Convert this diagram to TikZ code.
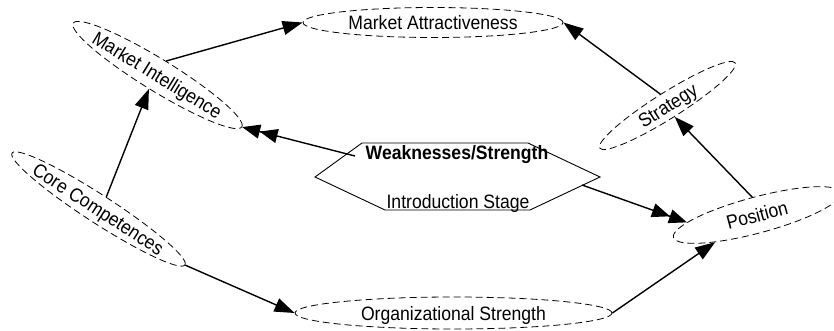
\documentclass[tikz,border=0pt]{standalone}
\usepackage{fontspec}
\usepackage{graphicx}
\setmainfont{Liberation Sans}
\usetikzlibrary{arrows.meta,shapes.geometric}
\newcommand{\vstr}[1]{\makebox[0pt]{\scalebox{1}[1.1]{#1}}}
\begin{document}
\begin{tikzpicture}[x=1pt,y=-1pt,
  txt/.style={font=\fontsize{17.6}{20}\selectfont, text height=14pt, text depth=0pt},
  ell/.style={txt, draw, ellipse, dash pattern=on 7pt off 4pt, line width=0.8pt, inner sep=0pt},
  arr/.style={line width=1.4pt, -{Triangle[length=20pt,width=14pt]}},
  darr/.style={line width=1.4pt, -{Triangle[length=18pt,width=14pt,sep=0pt]Triangle[length=18pt,width=14pt]}},
  lbl/.style={txt, inner sep=0pt},
  hex/.style={line width=0.9pt, line join=miter}
]
\useasboundingbox (0,0) rectangle (834,331);
% ellipses
\node[ell, minimum width=260pt, minimum height=30pt] (ma) at (433,22.5) {\vstr{Market Attractiveness}};
\node[ell, minimum width=198pt, minimum height=32pt, rotate=-31.6] (mi) at (157.5,75) {\vstr{Market Intelligence}};
\node[ell, minimum width=206pt, minimum height=28pt, rotate=-32.9] (cc) at (98.5,209) {\vstr{Core Competences}};
\node[ell, minimum width=317pt, minimum height=32pt] (os) at (453.5,313) {\vstr{Organizational Strength}};
\node[ell, minimum width=160pt, minimum height=26pt, rotate=32.2] (st) at (667.5,105.5) {\vstr{Strategy}};
\node[ell, minimum width=173pt, minimum height=36pt, rotate=15] (po) at (757,215) {\vstr{Position}};
% hexagon
\coordinate (hl) at (315,177);
\coordinate (htl) at (362,143);
\coordinate (htr) at (528,143);
\coordinate (hr) at (600,177);
\coordinate (hbr) at (530,210);
\coordinate (hbl) at (385,210);
\draw[hex] (hl) -- (htl) -- (htr) -- (hr) -- (hbr) -- (hbl) -- cycle;
\node[lbl, font=\fontsize{17.6}{20}\selectfont\bfseries] (ws) at (457,153) {\vstr{Weaknesses/Strength}};
\node[lbl] (intro) at (458,201) {\vstr{Introduction Stage}};
\coordinate (h1) at (355,156);
\coordinate (h2) at (582,185);
% connectors
\draw[arr] (mi.north) -- (ma.west);
\draw[arr] (st.north) -- (ma.east);
\draw[arr] (cc.north) -- (mi.south);
\draw[arr] (cc.east) -- (os.west);
\draw[arr] (os.east) -- (po.198);
\draw[arr] (po.north) -- (st.south);
\draw[darr] (h1) -- (mi.east);
\draw[darr] (h2) -- (po.171);
\end{tikzpicture}
\end{document}
